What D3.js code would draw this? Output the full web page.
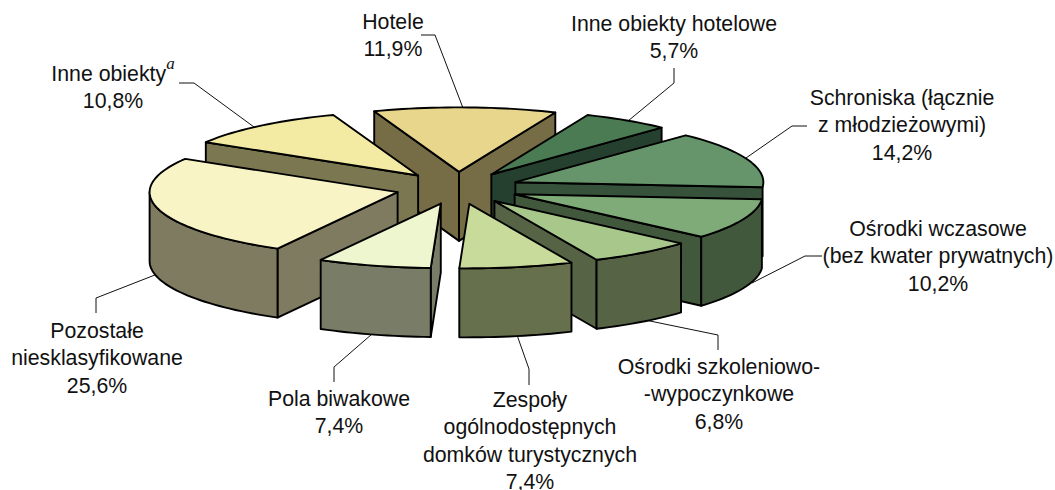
<!DOCTYPE html>
<html>
<head>
<meta charset="utf-8">
<script src="https://cdn.jsdelivr.net/npm/d3@7"></script>
<style>
	html, body { margin: 0; background: #fff; }
	text { font-family: "Liberation Sans", Arial, sans-serif; font-size: 21.3px; fill: #111; }
</style>
</head>
<body>
<svg id="chart" width="1055" height="490"></svg>
<script>
const categories = ["Hotele", "Inne obiekty hotelowe", "Schroniska (łącznie z młodzieżowymi)",
	"Ośrodki wczasowe (bez kwater prywatnych)", "Ośrodki szkoleniowo-wypoczynkowe",
	"Zespoły ogólnodostępnych domków turystycznych", "Pola biwakowe",
	"Pozostałe niesklasyfikowane", "Inne obiekty"];
const values = [11.9, 5.7, 14.2, 10.2, 6.8, 7.4, 7.4, 25.6, 10.8];

const topColors = ["#e8d68d", "#4a7b52", "#66956b", "#7fab78", "#a8c78a", "#c8db9a", "#edf6cf", "#f8f4c6", "#f3eaa4"];
const sideColors = ["#766c45", "#264030", "#36523a", "#42583c", "#566345", "#66704c", "#797d67", "#7e7b60", "#7b7751"];

// label lines per slice, the last line of each label is the formatted value
const labelLines = [["Hotele"], ["Inne obiekty hotelowe"], ["Schroniska (łącznie", "z młodzieżowymi)"],
	["Ośrodki wczasowe", "(bez kwater prywatnych)"], ["Ośrodki szkoleniowo-", "-wypoczynkowe"],
	["Zespoły", "ogólnodostępnych", "domków turystycznych"], ["Pola biwakowe"],
	["Pozostałe", "niesklasyfikowane"], ["Inne obiekty"]];

// layout measured on the picture
const labelPos = [[393, 29], [674, 31], [902, 105], [938, 236], [719, 374], [530, 407], [339, 406], [97, 338], [113, 81]];
const labelStep = 27.3;
const leaders = [
	[[421, 35], [435, 35], [463, 108]],
	[[674, 68], [674, 83], [628, 121]],
	[[807, 126], [792, 126], [746, 158]],
	[[822, 256], [805, 256], [752, 283]],
	[[718, 350], [718, 335], [645, 320]],
	[[529, 385], [529, 369], [517, 335]],
	[[334, 382], [334, 367], [372, 334]],
	[[96, 313], [96, 298], [160, 273]],
	[[179, 83], [194, 83], [254, 127]]
];

const cx = 457.5, cy = 188, rx = 248, ry = 64.5, depth = 69, explode = 0.25;
const rad = d3.scaleLinear().domain([0, 360]).range([0, 2 * Math.PI]);
const firstAngle = rad(-20);

const svg = d3.select("#chart");
const xPos = d3.scaleLinear().domain([-1, 1]).range([cx - rx, cx + rx]);
const yPos = d3.scaleLinear().domain([-1, 1]).range([cy - ry, cy + ry]);
const percent = d3.formatLocale({decimal: ",", thousands: " ", grouping: [3], currency: ["", ""]}).format(".1f");

const line = d3.line();
const slices = d3.pie().sortValues(null).startAngle(firstAngle).endAngle(firstAngle + 2 * Math.PI)(values);

function project(slice, angle, r, drop) {
	const mid = (slice.startAngle + slice.endAngle) / 2;
	const ex = explode * Math.sin(mid), ey = -explode * Math.cos(mid);
	return [xPos(ex + r * Math.sin(angle)), yPos(ey - r * Math.cos(angle)) + drop];
}

function arcPoints(slice, a0, a1, drop) {
	const n = Math.max(2, Math.ceil((a1 - a0) / 0.03));
	return d3.range(n + 1).map(i => project(slice, a0 + (a1 - a0) * i / n, 1, drop));
}

const leaderG = svg.append("g");
leaderG.selectAll("path").data(leaders).join("path")
	.attr("d", d => line(d))
	.attr("fill", "none")
	.attr("stroke", "#111")
	.attr("stroke-width", 1);

// back to front, the slice whose tip is higher up on screen goes first
const order = slices.map((s, i) => ({s, i}))
	.sort((a, b) => d3.ascending(project(a.s, 0, 0, 0)[1], project(b.s, 0, 0, 0)[1]));

const pieG = svg.append("g")
	.attr("stroke", "#000")
	.attr("stroke-width", 1.9)
	.attr("stroke-linejoin", "round");

function wall(g, pts, color) {
	g.append("path").attr("d", line(pts) + "Z").attr("fill", color);
}

order.forEach(({s, i}) => {
	const g = pieG.append("g");
	const apex = project(s, 0, 0, 0), apexLow = project(s, 0, 0, depth);

	// cut faces, only the ones turned to the viewer
	if (Math.sin(s.startAngle) < 0)
		wall(g, [apex, project(s, s.startAngle, 1, 0), project(s, s.startAngle, 1, depth), apexLow], sideColors[i]);
	if (Math.sin(s.endAngle) > 0)
		wall(g, [apex, project(s, s.endAngle, 1, 0), project(s, s.endAngle, 1, depth), apexLow], sideColors[i]);

	// outer rim, front half only; a sliver of a few degrees would just double the outline
	const a0 = Math.max(s.startAngle, rad(90)), a1 = Math.min(s.endAngle, rad(270));
	if (a1 - a0 > 0.1)
		wall(g, arcPoints(s, a0, a1, 0).concat(arcPoints(s, a0, a1, depth).reverse()), sideColors[i]);

	wall(g, [apex].concat(arcPoints(s, s.startAngle, s.endAngle, 0)), topColors[i]);
});

const labels = svg.append("g").attr("text-anchor", "middle");
categories.forEach((c, i) => {
	const lines = labelLines[i].concat(percent(values[i]) + "%");
	lines.forEach((t, j) => {
		const label = labels.append("text")
			.attr("x", labelPos[i][0])
			.attr("y", labelPos[i][1] + j * labelStep)
			.text(t);
		// footnote mark of the last label
		if (c == "Inne obiekty" && j == 0)
			label.append("tspan")
				.attr("dy", -12)
				.style("font-family", "'Liberation Serif', serif")
				.style("font-style", "italic")
				.style("font-size", "17px")
				.text("a");
	});
});
</script>
</body>
</html>
